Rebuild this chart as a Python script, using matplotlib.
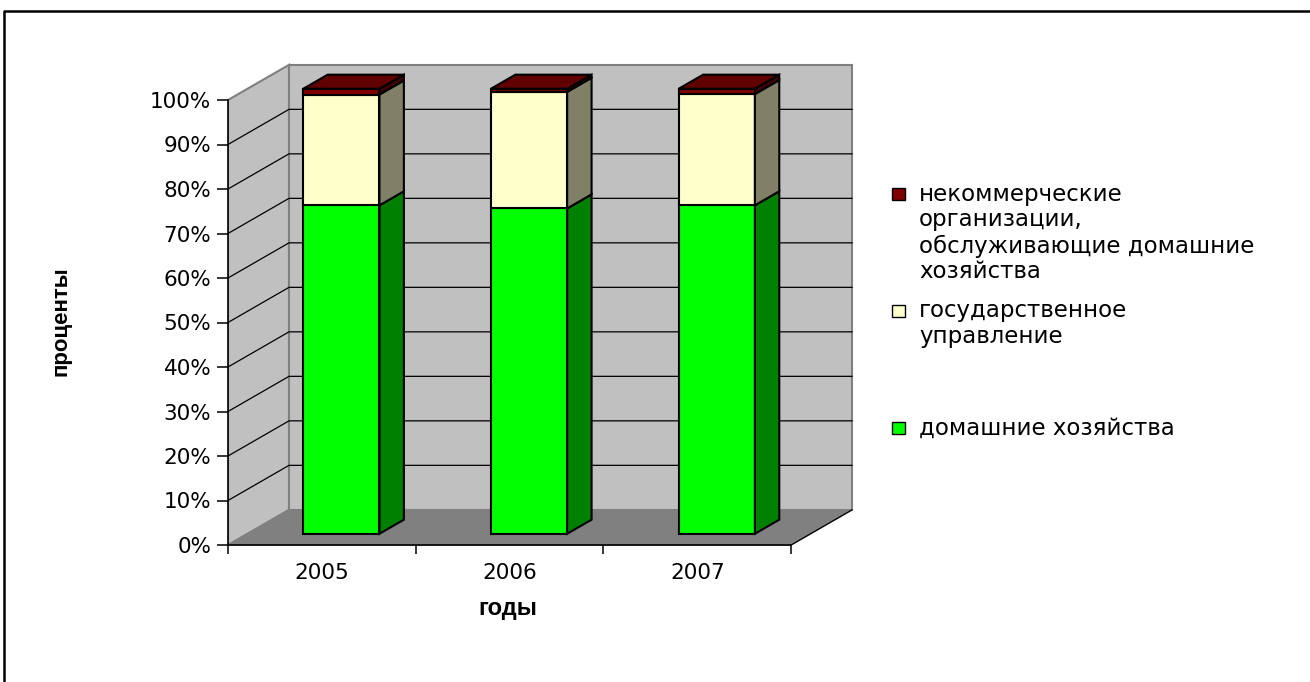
import numpy as np
import matplotlib.pyplot as plt
from matplotlib.patches import Rectangle
from matplotlib.lines import Line2D

plt.rcParams['font.family'] = ['DejaVu Sans']

# data (shares of final consumption, %)
years = ['2005', '2006', '2007']
households = [73.8, 73.1, 73.8]
government = [24.9, 26.2, 25.0]
npish = [1.3, 0.7, 1.2]
series = [households, government, npish]
names = ['домашние хозяйства',
         'государственное\nуправление',
         'некоммерческие\nорганизации,\nобслуживающие домашние\nхозяйства']
y_ticks = list(range(0, 101, 10))

front_colors = ['#00ff00', '#ffffcc', '#800000']
side_colors = ['#008000', '#808066', '#400000']
top_colors = ['#00c000', '#bfbf99', '#600000']

W, H = 1310, 682
XPX, YPX = 187.7, 4.45          # pixels per category / per percent
DX, DY = 0.325, 7.9             # oblique depth offset in data units
D0, D1 = 0.32, 0.72             # bar depth span
HW = 0.203                      # half width of bar front face

fig = plt.figure(figsize=(W / 100, H / 100), dpi=100)
xlim, ylim = (0, 3.45), (-3, 112)
left_px, zero_px = 228, 545
ax = fig.add_axes([left_px / W,
                   1 - (zero_px - ylim[0] * YPX) / H,
                   (xlim[1] - xlim[0]) * XPX / W,
                   (ylim[1] - ylim[0]) * YPX / H])
ax.set_xlim(*xlim)
ax.set_ylim(*ylim)
ax.patch.set_visible(False)

n = len(years)
# walls and floor
ax.fill([0, DX, DX, 0], [0, DY, 100 + DY, 100], fc='#c0c0c0', ec='#808080', lw=1.5, zorder=1)
ax.fill([DX, n + DX, n + DX, DX], [DY, DY, 100 + DY, 100 + DY], fc='#c0c0c0', ec='#808080', lw=1.5, zorder=1)
ax.fill([0, n, n + DX, DX], [0, 0, DY, DY], fc='#808080', ec='#808080', lw=1.0, zorder=1.6)
ax.plot([n, n + DX], [0, DY], color='black', lw=0.9, zorder=1.7)
for v in y_ticks[1:-1]:
    ax.plot([0, DX, n + DX], [v, v + DY, v + DY], color='black', lw=0.9, zorder=1.5)

# stacked 3d columns
xc = np.arange(n) + 0.5
dd = D1 - D0
cum = np.zeros(n)
for s, vals in enumerate(series):
    vals = np.array(vals)
    ax.bar(xc + D0 * DX, vals, width=2 * HW, bottom=cum + D0 * DY,
           color=front_colors[s], edgecolor='black', lw=1.5, zorder=3 + s)
    for i in range(n):
        xr = xc[i] + HW + D0 * DX
        yb = cum[i] + D0 * DY
        yt = cum[i] + vals[i] + D0 * DY
        ax.fill([xr, xr + dd * DX, xr + dd * DX, xr],
                [yb, yb + dd * DY, yt + dd * DY, yt],
                fc=side_colors[s], ec='black', lw=1.5, zorder=3 + s)
    cum = cum + vals

# top faces of the top segment
for i in range(n):
    xl = xc[i] - HW + D0 * DX
    xr = xc[i] + HW + D0 * DX
    yt = cum[i] + D0 * DY
    ax.fill([xl, xr, xr + dd * DX, xl + dd * DX],
            [yt, yt, yt + dd * DY, yt + dd * DY],
            fc=top_colors[-1], ec='black', lw=1.5, zorder=7)

# axes
for sp in ['top', 'right']:
    ax.spines[sp].set_visible(False)
ax.spines['bottom'].set_position(('data', 0))
ax.spines['left'].set_bounds(0, 100)
ax.spines['bottom'].set_bounds(0, n)
for sp in ['left', 'bottom']:
    ax.spines[sp].set_linewidth(1.2)
    ax.spines[sp].set_zorder(8)
ax.set_yticks(y_ticks, labels=[f'{v}%' for v in y_ticks])
ax.set_xticks(range(n + 1), labels=[''] * (n + 1))
ax.set_xticks(xc, labels=years, minor=True)
ax.tick_params(axis='y', length=8, width=1.1, pad=4, labelsize=15.5)
ax.tick_params(axis='x', which='major', length=6.5, width=1.1)
ax.tick_params(axis='x', which='minor', length=0, pad=13, labelsize=15.5)

fig.text(61 / W, 1 - 321 / H, 'проценты', rotation=90, fontsize=16, fontweight='bold',
         family='Liberation Sans', ha='center', va='center')
fig.text(508 / W, 1 - 609 / H, 'годы', fontsize=17, fontweight='bold',
         family='Liberation Sans', ha='center', va='center')

# legend (Excel order: last series on top)
leg_y = [194, 311, 428]
for k, s in enumerate([2, 1, 0]):
    y0 = leg_y[k]
    fig.patches.append(Rectangle((892 / W, 1 - (y0 + 6) / H), 13 / W, 12 / H,
                                 transform=fig.transFigure, fc=front_colors[s],
                                 ec='black', lw=1.0))
    for j, line in enumerate(names[s].split('\n')):
        fig.text(919 / W, 1 - (y0 + 26 * j) / H, line, fontsize=16.5,
                 ha='left', va='center')

# chart border (top and left edges only are inside the picture)
fig.add_artist(Line2D([4 / W, 4 / W, 1.0], [0, 1 - 11 / H, 1 - 11 / H],
                      transform=fig.transFigure, color='black', lw=1.8))

fig.savefig('out.png', dpi=100)
